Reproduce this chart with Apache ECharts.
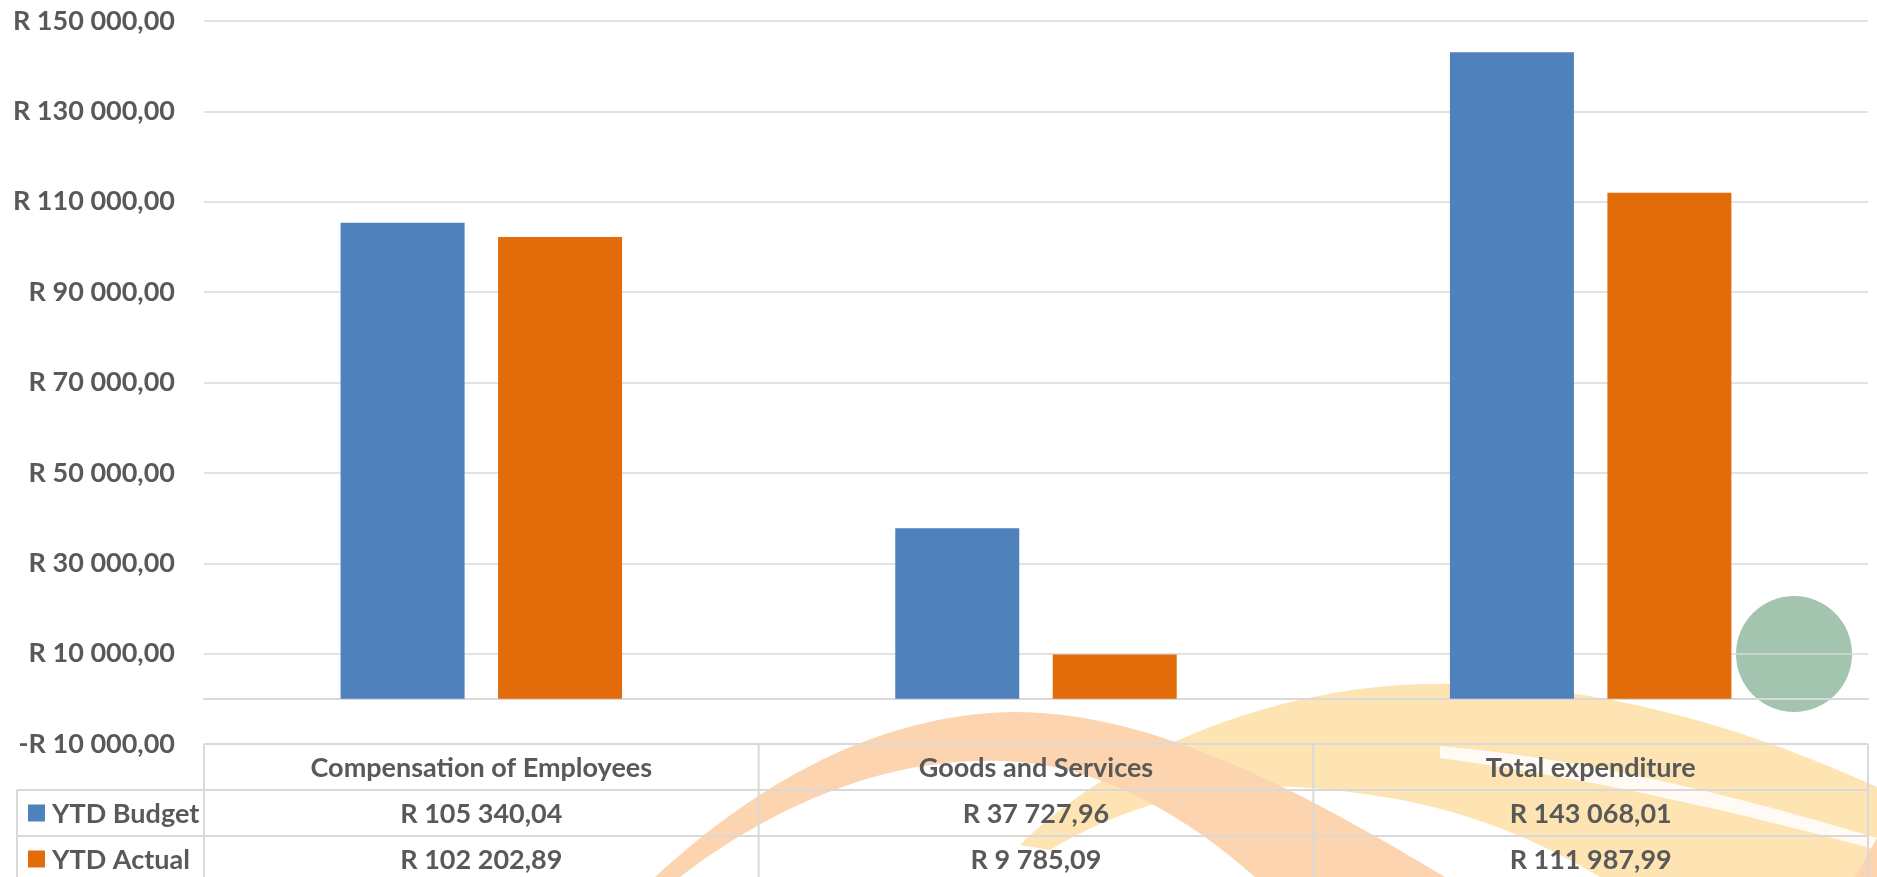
<!DOCTYPE html>
<html>
<head>
<meta charset="utf-8">
<script src="https://cdn.jsdelivr.net/npm/echarts@6/dist/echarts.min.js"></script>
<style>
html,body{margin:0;padding:0;background:#fff;}
#chart{width:1877px;height:877px;}
</style>
</head>
<body>
<div id="chart"></div>
<script>
// ---- data ----
const categories = ['Compensation of Employees', 'Goods and Services', 'Total expenditure'];
const seriesNames = ['YTD Budget', 'YTD Actual'];
const ytdBudget = [105340.04, 37727.96, 143068.01];
const ytdActual = [102202.89, 9785.09, 111987.99];
const axisMin = -10000;
const axisMax = 150000;
const axisStep = 20000;

// ---- style ----
const FONT = 'Lato, "Open Sans", sans-serif';
const TXT = '#595959';
const GRIDC = '#d9d9d9';
const COLORS = ['#4F81BD', '#E36C0A'];
const G = {left: 204, right: 9, top: 21, bottom: 133};
const W = 1877, H = 877;

function fmtR(v) {
  const neg = v < 0;
  const a = Math.abs(v);
  let s = a.toFixed(2);
  let [ip, dp] = s.split('.');
  ip = ip.replace(/\B(?=(\d{3})+(?!\d))/g, ' ');
  return (neg ? '-' : '') + 'R ' + ip + ',' + dp;
}

// sample a path made of line / cubic segments into polygon points (decoration only)
function samplePath(start, segs) {
  const pts = [start.slice()];
  let cur = start.slice();
  segs.forEach(s => {
    if (s.length === 2) { pts.push(s.slice()); cur = s.slice(); return; }
    const [c1x, c1y, c2x, c2y, ex, ey] = s;
    for (let i = 1; i <= 24; i++) {
      const t = i / 24, u = 1 - t;
      pts.push([
        u*u*u*cur[0] + 3*u*u*t*c1x + 3*u*t*t*c2x + t*t*t*ex,
        u*u*u*cur[1] + 3*u*u*t*c1y + 3*u*t*t*c2y + t*t*t*ey
      ]);
    }
    cur = [ex, ey];
  });
  return pts;
}

const chart = echarts.init(document.getElementById('chart'), null, {renderer: 'canvas'});

const option = {
  animation: false,
  backgroundColor: '#ffffff',
  grid: {left: G.left, right: G.right, top: G.top, bottom: G.bottom, containLabel: false, outerBoundsMode: 'none'},
  xAxis: {
    type: 'category',
    data: categories,
    axisLine: {show: true, onZero: true, lineStyle: {color: GRIDC, width: 2}},
    axisTick: {show: false},
    axisLabel: {show: false},
    splitLine: {show: false}
  },
  yAxis: {
    type: 'value',
    min: axisMin,
    max: axisMax,
    interval: axisStep,
    axisLine: {show: false},
    axisTick: {show: false},
    axisLabel: {
      margin: 29,
      color: TXT,
      fontFamily: FONT,
      fontWeight: 'bold',
      fontSize: 27,
      formatter: v => fmtR(v)
    },
    splitLine: {show: true, lineStyle: {color: GRIDC, width: 1.5}}
  },
  series: [
    {name: seriesNames[0], type: 'bar', data: ytdBudget, barWidth: 124, barGap: '27%', itemStyle: {color: COLORS[0]}},
    {name: seriesNames[1], type: 'bar', data: ytdActual, barWidth: 124, barGap: '27%', itemStyle: {color: COLORS[1]}}
  ]
};
chart.setOption(option);

// ---- watermark + data table (graphic) ----
const els = [];
// watermark swooshes (decorative background)
els.push({type: 'polygon', z: -5, silent: true,
  shape: {points: samplePath([1020, 845], [
    [1100, 765, 1250, 690, 1420, 684], [1600, 680, 1750, 730, 1877, 787], [1877, 877], [1600, 877],
    [1520, 830, 1440, 800, 1330, 790], [1250, 780, 1150, 790, 1050, 850]])},
  style: {fill: '#FDE4B2'}});
els.push({type: 'polygon', z: -4, silent: true,
  shape: {points: samplePath([1440, 746], [
    [1600, 760, 1750, 800, 1877, 838], [1877, 850], [1750, 815, 1600, 780, 1440, 758]])},
  style: {fill: 'rgba(255,255,255,0.85)'}});
els.push({type: 'polygon', z: -3, silent: true,
  shape: {points: samplePath([655, 877], [
    [760, 780, 880, 715, 1010, 712], [1150, 710, 1300, 790, 1445, 877], [1255, 877],
    [1190, 820, 1110, 770, 1020, 762], [900, 752, 780, 800, 680, 877]])},
  style: {fill: '#FCD5B0'}});
els.push({type: 'polygon', z: -3, silent: true,
  shape: {points: [[1855, 877], [1877, 838], [1877, 877]]},
  style: {fill: '#FCD5B0'}});
// green circle
els.push({type: 'circle', z: -2, silent: true,
  shape: {cx: 1794, cy: 654, r: 58},
  style: {fill: '#A3C4AE'}});

// table geometry derived from the grid
const tTop = H - G.bottom;
const rowH = 46;
const plotL = G.left, plotR = W - G.right;
const colW = (plotR - plotL) / categories.length;
const labL = 17;
const lineStyle = {stroke: GRIDC, lineWidth: 2};
els.push({type: 'line', z: 5, shape: {x1: plotL, y1: tTop, x2: plotR, y2: tTop}, style: lineStyle});
for (let r = 1; r <= 2; r++) {
  els.push({type: 'line', z: 5, shape: {x1: labL, y1: tTop + r * rowH, x2: plotR, y2: tTop + r * rowH}, style: lineStyle});
}
els.push({type: 'line', z: 5, shape: {x1: labL, y1: tTop + rowH, x2: labL, y2: H}, style: lineStyle});
for (let c = 0; c <= categories.length; c++) {
  const x = plotL + c * colW;
  els.push({type: 'line', z: 5, shape: {x1: x, y1: tTop, x2: x, y2: H}, style: lineStyle});
}
const tfont = 'bold 27px ' + FONT;
categories.forEach((cat, i) => {
  els.push({type: 'text', z: 10, style: {text: cat, x: plotL + (i + 0.5) * colW, y: tTop + rowH / 2 + 1,
    align: 'center', verticalAlign: 'middle', font: tfont, fill: TXT}});
});
const rows = [ytdBudget, ytdActual];
rows.forEach((vals, r) => {
  const cy = tTop + (r + 1.5) * rowH;
  els.push({type: 'rect', z: 10, shape: {x: 28, y: cy - 8.5, width: 17, height: 17}, style: {fill: COLORS[r]}});
  els.push({type: 'text', z: 10, style: {text: seriesNames[r], x: 52, y: cy + 1, align: 'left', verticalAlign: 'middle', font: tfont, fill: TXT}});
  vals.forEach((v, i) => {
    els.push({type: 'text', z: 10, style: {text: fmtR(v), x: plotL + (i + 0.5) * colW, y: cy + 1,
      align: 'center', verticalAlign: 'middle', font: tfont, fill: TXT}});
  });
});
chart.setOption({graphic: {elements: els}});
</script>
</body>
</html>
